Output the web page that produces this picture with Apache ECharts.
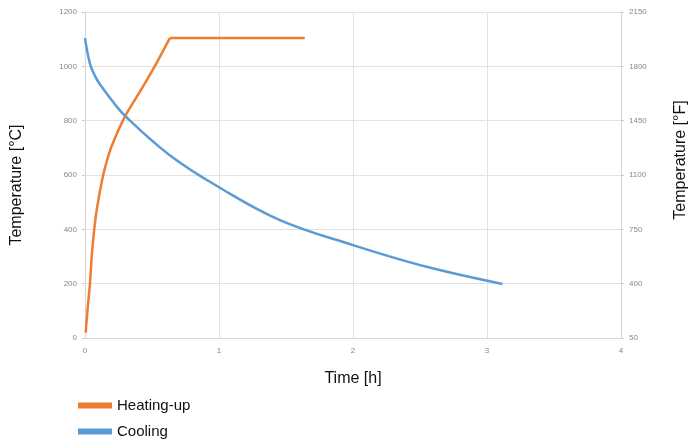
<!DOCTYPE html>
<html>
<head>
<meta charset="utf-8">
<script src="https://cdn.jsdelivr.net/npm/echarts@6/dist/echarts.min.js"></script>
<style>html,body{margin:0;padding:0;background:#fff}#c{width:697px;height:445px}</style>
</head>
<body>
<div id="c"></div>
<script>
// Time [h] and temperature [°C]
const heatingTime = [0.005, 0.02, 0.037, 0.05, 0.067, 0.087, 0.127, 0.161, 0.2, 0.298, 0.42, 0.52, 0.633];
const heatingTemp = [20, 110, 200, 300, 390, 470, 580, 648, 708, 815, 915, 1000, 1104];
const holdTime = [0.633, 1.64];
const holdTemp = [1104, 1104];
const coolingTime = [0, 0.037, 0.074, 0.11, 0.2, 0.298, 0.63, 1.0, 1.45, 2.0, 2.55, 3.115];
const coolingTemp = [1104, 1010, 965, 935, 875, 818, 674, 555, 435, 342, 262, 199];
const xTicks = [0, 1, 2, 3, 4];
const cTicks = [0, 200, 400, 600, 800, 1000, 1200];
const fTicks = [50, 400, 750, 1100, 1450, 1800, 2150];

const font = '"Liberation Sans Narrow", "Liberation Sans", sans-serif';
const zip = (a, b) => a.map((v, i) => [v, b[i]]);
const ORANGE = '#ED7D31', BLUE = '#5B9BD5';

const chart = echarts.init(document.getElementById('c'));
chart.setOption({
  animation: false,
  grid: { left: 85, right: 75, top: 12, bottom: 107 },
  legend: {
    orient: 'vertical', left: 78, top: 398, padding: 0, itemWidth: 34, itemHeight: 6, itemGap: 11,
    textStyle: { fontFamily: font, fontSize: 15, color: '#111' },
    data: [
      { name: 'Heating-up', icon: 'rect', itemStyle: { color: ORANGE } },
      { name: 'Cooling', icon: 'rect', itemStyle: { color: BLUE } }
    ]
  },
  xAxis: {
    type: 'value', min: xTicks[0], max: xTicks[xTicks.length - 1], interval: 1,
    name: 'Time [h]', nameLocation: 'middle', nameGap: 33,
    nameTextStyle: { fontFamily: font, fontSize: 16, color: '#111' },
    axisLine: { show: true, lineStyle: { color: '#d6d6d6' } },
    axisTick: { show: false },
    axisLabel: { fontSize: 8, color: '#888', margin: 9 },
    splitLine: { show: true, lineStyle: { color: '#e2e2e2' } }
  },
  yAxis: [
    {
      type: 'value', min: cTicks[0], max: cTicks[cTicks.length - 1], interval: 200,
      name: 'Temperature [°C]', nameLocation: 'middle', nameGap: 60, nameRotate: 90,
      nameTextStyle: { fontFamily: font, fontSize: 16, color: '#111', padding: [0, 20, 0, 0] },
      axisLine: { show: true, lineStyle: { color: '#d6d6d6' } },
      axisTick: { show: true, length: 3, lineStyle: { color: '#ccc' } },
      axisLabel: { fontSize: 8, color: '#888', margin: 8, formatter: v => String(v) },
      splitLine: { show: true, lineStyle: { color: '#e2e2e2' } }
    },
    {
      type: 'value', position: 'right', min: cTicks[0], max: cTicks[cTicks.length - 1], interval: 200,
      name: 'Temperature [°F]', nameLocation: 'middle', nameGap: 52, nameRotate: 90,
      nameTextStyle: { fontFamily: font, fontSize: 16, color: '#111', padding: [0, 0, 0, 30] },
      axisLine: { show: true, lineStyle: { color: '#d6d6d6' } },
      axisTick: { show: true, length: 3, lineStyle: { color: '#ccc' } },
      axisLabel: { fontSize: 8, color: '#888', margin: 8,
        formatter: v => String(fTicks[Math.round(v / 200)]) },
      splitLine: { show: false }
    }
  ],
  series: [
    {
      name: 'Heating-up', type: 'line', data: zip(heatingTime, heatingTemp),
      showSymbol: false, smooth: 0.35,
      lineStyle: { color: ORANGE, width: 2.5 }, itemStyle: { color: ORANGE }
    },
    {
      name: 'Heating-up', type: 'line', data: zip(holdTime, holdTemp),
      showSymbol: false,
      lineStyle: { color: ORANGE, width: 2.5 }, itemStyle: { color: ORANGE }
    },
    {
      name: 'Cooling', type: 'line', data: zip(coolingTime, coolingTemp),
      showSymbol: false, smooth: 0.4,
      lineStyle: { color: BLUE, width: 2.5 }, itemStyle: { color: BLUE }
    }
  ]
});
</script>
</body>
</html>
